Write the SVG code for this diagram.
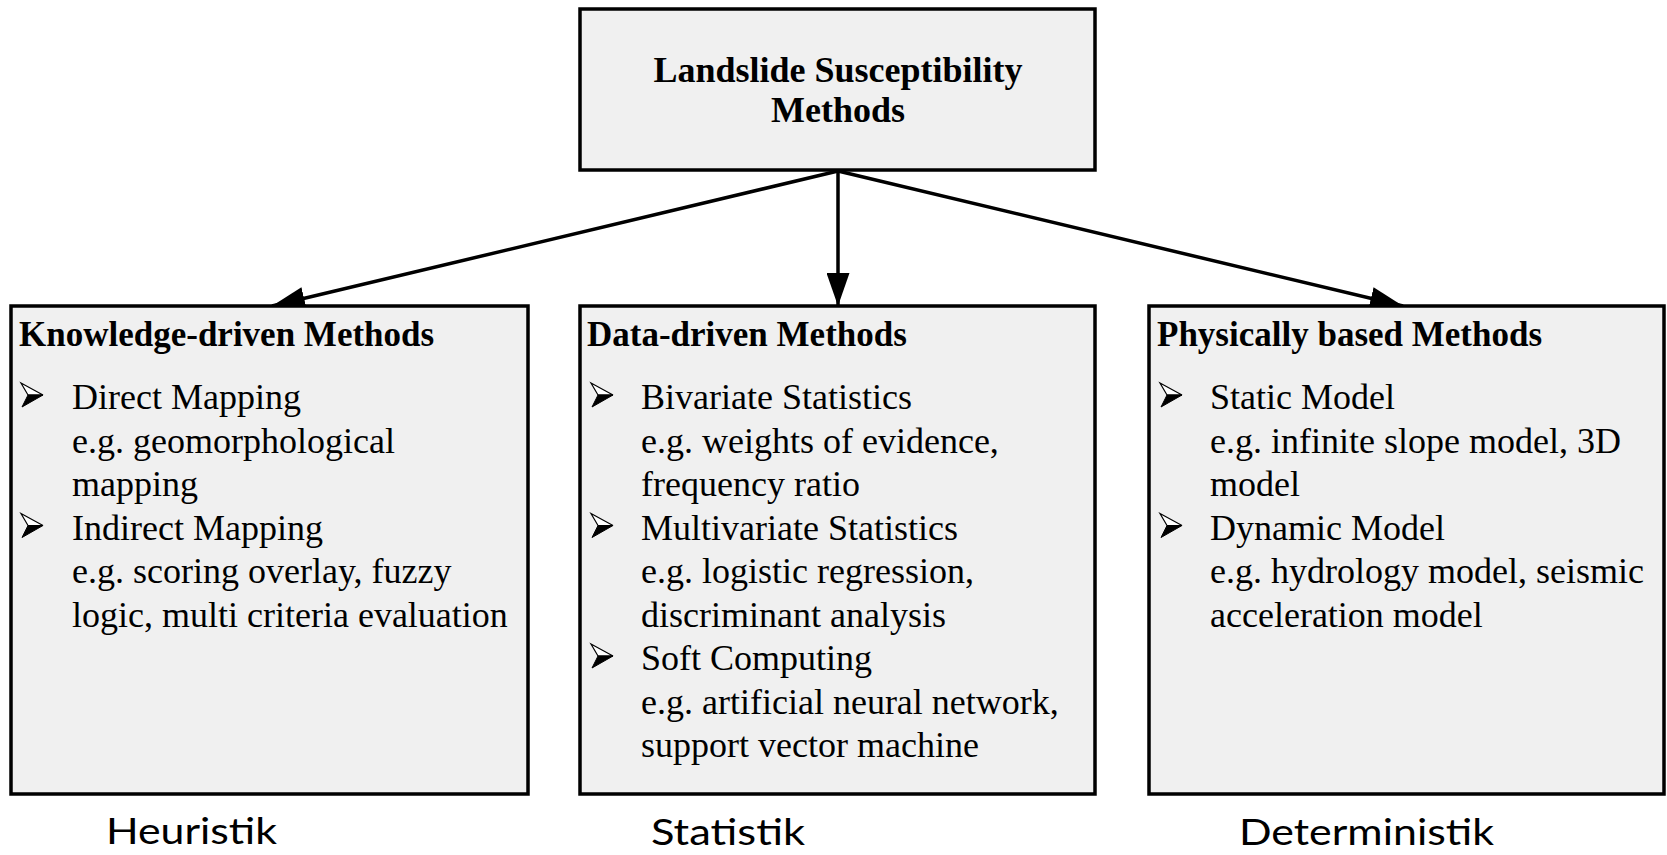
<svg xmlns="http://www.w3.org/2000/svg" width="1667" height="855" viewBox="0 0 1667 855">
  <style>
    .box { fill: #f0f0f0; stroke: #000; stroke-width: 3.5; }
    .title { font-family: "Liberation Serif", serif; font-weight: bold; font-size: 36px; text-anchor: middle; }
    .head { font-family: "Liberation Serif", serif; font-weight: bold; font-size: 35px; }
    .body { font-family: "Liberation Serif", serif; font-size: 36px; }
    .label { font-family: "Lato", "Open Sans", sans-serif; font-size: 36px; }
    .conn { stroke: #000; stroke-width: 3.5; fill: none; }
  </style>
  <defs>
    <marker id="arrow" viewBox="0 0 33 23" refX="33" refY="11.5" markerWidth="33" markerHeight="23" markerUnits="userSpaceOnUse" orient="auto">
      <path d="M0,0 L33,11.5 L0,23 Z" fill="#000"/>
    </marker>
    <!-- arrowhead list bullet: outlined upper half, solid lower half -->
    <symbol id="bullet" viewBox="0 0 24 26" width="24" height="26" overflow="visible">
      <path d="M1,1 L23,13 L8,13 Z" fill="#fff" stroke="#000" stroke-width="1.2" stroke-linejoin="miter"/>
      <path d="M8,13 L23,13 L2,25 Z" fill="#000" stroke="#000" stroke-width="1"/>
    </symbol>
  </defs>
  <rect width="1667" height="855" fill="#fff"/>

  <!-- connectors from the root box down to the three method families -->
  <g id="connectors">
    <line class="conn" x1="838" y1="171" x2="272" y2="306" marker-end="url(#arrow)"/>
    <line class="conn" x1="838" y1="171" x2="838" y2="306" marker-end="url(#arrow)"/>
    <line class="conn" x1="838" y1="171" x2="1403" y2="306" marker-end="url(#arrow)"/>
  </g>

  <g id="root">
    <rect class="box" x="580" y="9" width="515" height="161"/>
    <text class="title" x="838" y="82">Landslide Susceptibility</text>
    <text class="title" x="838" y="122">Methods</text>
  </g>

  <g id="knowledge">
    <rect class="box" x="11" y="306" width="517" height="488"/>
    <text class="head" x="19" y="346">Knowledge-driven Methods</text>
    <use href="#bullet" x="20" y="382"/>
    <text class="body" x="72" y="409">Direct Mapping</text>
    <text class="body" x="72" y="452.5">e.g. geomorphological</text>
    <text class="body" x="72" y="496">mapping</text>
    <use href="#bullet" x="20" y="512.5"/>
    <text class="body" x="72" y="539.5">Indirect Mapping</text>
    <text class="body" x="72" y="583">e.g. scoring overlay, fuzzy</text>
    <text class="body" x="72" y="626.5">logic, multi criteria evaluation</text>
  </g>

  <g id="data">
    <rect class="box" x="580" y="306" width="515" height="488"/>
    <text class="head" x="587" y="346">Data-driven Methods</text>
    <use href="#bullet" x="590" y="382"/>
    <text class="body" x="641" y="409">Bivariate Statistics</text>
    <text class="body" x="641" y="452.5">e.g. weights of evidence,</text>
    <text class="body" x="641" y="496">frequency ratio</text>
    <use href="#bullet" x="590" y="512.5"/>
    <text class="body" x="641" y="539.5">Multivariate Statistics</text>
    <text class="body" x="641" y="583">e.g. logistic regression,</text>
    <text class="body" x="641" y="626.5">discriminant analysis</text>
    <use href="#bullet" x="590" y="643"/>
    <text class="body" x="641" y="670">Soft Computing</text>
    <text class="body" x="641" y="713.5">e.g. artificial neural network,</text>
    <text class="body" x="641" y="757">support vector machine</text>
  </g>

  <g id="physical">
    <rect class="box" x="1149" y="306" width="515" height="488"/>
    <text class="head" x="1157" y="346">Physically based Methods</text>
    <use href="#bullet" x="1159" y="382"/>
    <text class="body" x="1210" y="409">Static Model</text>
    <text class="body" x="1210" y="452.5">e.g. infinite slope model, 3D</text>
    <text class="body" x="1210" y="496">model</text>
    <use href="#bullet" x="1159" y="512.5"/>
    <text class="body" x="1210" y="539.5">Dynamic Model</text>
    <text class="body" x="1210" y="583">e.g. hydrology model, seismic</text>
    <text class="body" x="1210" y="626.5">acceleration model</text>
  </g>

  <g id="labels">
    <text class="label" x="106" y="844" textLength="171" lengthAdjust="spacingAndGlyphs">Heuristik</text>
    <text class="label" x="651" y="845" textLength="154" lengthAdjust="spacingAndGlyphs">Statistik</text>
    <text class="label" x="1239" y="845" textLength="255" lengthAdjust="spacingAndGlyphs">Deterministik</text>
  </g>
</svg>
